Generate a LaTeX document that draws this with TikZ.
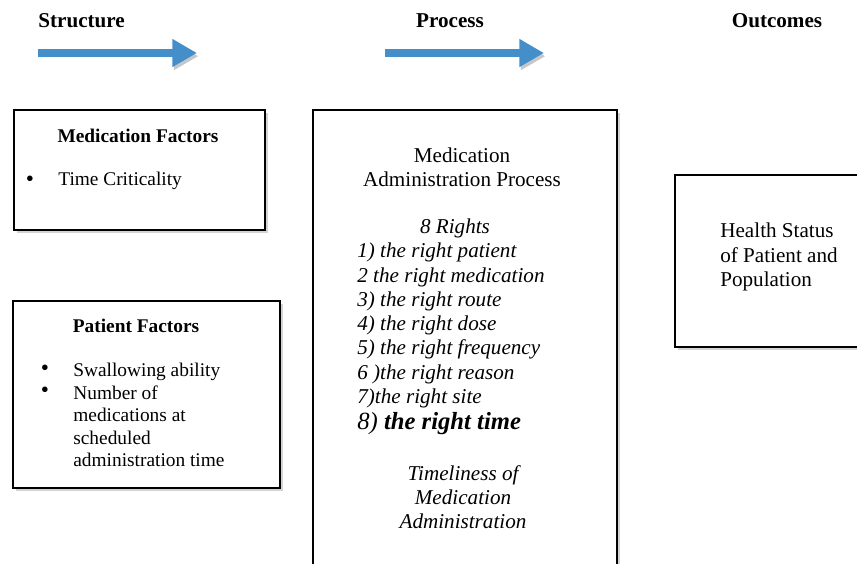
\documentclass[tikz,border=0pt]{standalone}
\usepackage{fontspec}
\setmainfont{Liberation Serif}
\usetikzlibrary{arrows.meta,
    positioning,
    shadows}
\definecolor{arrowblue}{RGB}{68,142,202}

\begin{document}
\begin{tikzpicture}[x=0.568pt,y=-0.568pt,
    every node/.style={inner sep=0pt},
    heading/.style={font=\fontsize{12}{14}\selectfont\bfseries},
    small/.style={font=\fontsize{11}{12.8}\selectfont},
    body/.style={font=\fontsize{12}{13.8}\selectfont},
    box/.style={draw, line width=1.3pt, fill=white,
        drop shadow={shadow xshift=1.6pt, shadow yshift=-1.8pt, opacity=0.35}},
    flow/.style={draw=arrowblue, line width=4pt,
        -{Triangle[width=15pt,length=14pt]},
        preaction={draw=black!22, transform canvas={shift={(0.8pt,-1.8pt)}}}}]
                  \clip (0,0) rectangle (857,563);
                  % column headings
                  \node[heading, anchor=west] (structure) at (38,21) {Structure};
                  \node[heading] (process) at (450,21) {Process};
                  \node[heading] (outcomes) at (777,21) {Outcomes};
                  \coordinate (sa) at (38,53);
                  \coordinate (sb) at (197,53);
                  \coordinate (pa) at (385,53);
                  \coordinate (pb) at (544,53);
                  \draw[flow] (sa) -- (sb);
                  \draw[flow] (pa) -- (pb);
                  % boxes
                  \draw[box] (14,110) rectangle (265,230);
                  \draw[box] (13,301) rectangle (280,488);
                  \draw[box] (313,110) rectangle (617,620);
                  \draw[box] (675,175) rectangle (880,347);
                  % medication factors
                  \node[small, font=\fontsize{11}{12.8}\selectfont\bfseries] (medtitle) at (138,136) {Medication Factors};
                  \node[small, scale=1.2] (medbullet) at (30,181) {\textbullet};
                  \node[small, anchor=west] (medtime) at (58,181) {Time Criticality};
                  % patient factors
                  \node[small, font=\fontsize{11}{12.8}\selectfont\bfseries] (pattitle) at (136,326) {Patient Factors};
                  \node[small, scale=1.2] (patbulleta) at (45,370) {\textbullet};
                  \node[small, scale=1.2] (patbulletb) at (45,392) {\textbullet};
                  \node[small, anchor=west, align=left] (patlist) at (73,415)
                      {Swallowing ability\\Number of\\medications at\\scheduled\\administration time};
                  % medication administration process
                  \node[body, align=center] (proctitle) at (462,167) {Medication\\Administration Process};
                  \node[body, font=\fontsize{12}{13.8}\selectfont\itshape] (rights) at (455,228) {8 Rights};
                  \node[body, font=\fontsize{12}{13.8}\selectfont\itshape, anchor=west, align=left] (rightlist) at (357,339)
                      {1) the right patient\\2 the right medication\\3) the right route\\4) the right dose\\5) the right frequency\\6 )the right reason\\7)the right site\\[1pt]
                       {\fontsize{14}{16}\selectfont 8) \bfseries the right time}};
                  \node[body, font=\fontsize{12}{13.8}\selectfont\itshape, align=center] (timely) at (463,497)
                      {Timeliness of\\Medication\\Administration};
                  % outcomes
                  \node[body, anchor=west, align=left] (health) at (720,257)
                      {Health Status\\of Patient and\\Population};
              \end{tikzpicture}
\end{document}
